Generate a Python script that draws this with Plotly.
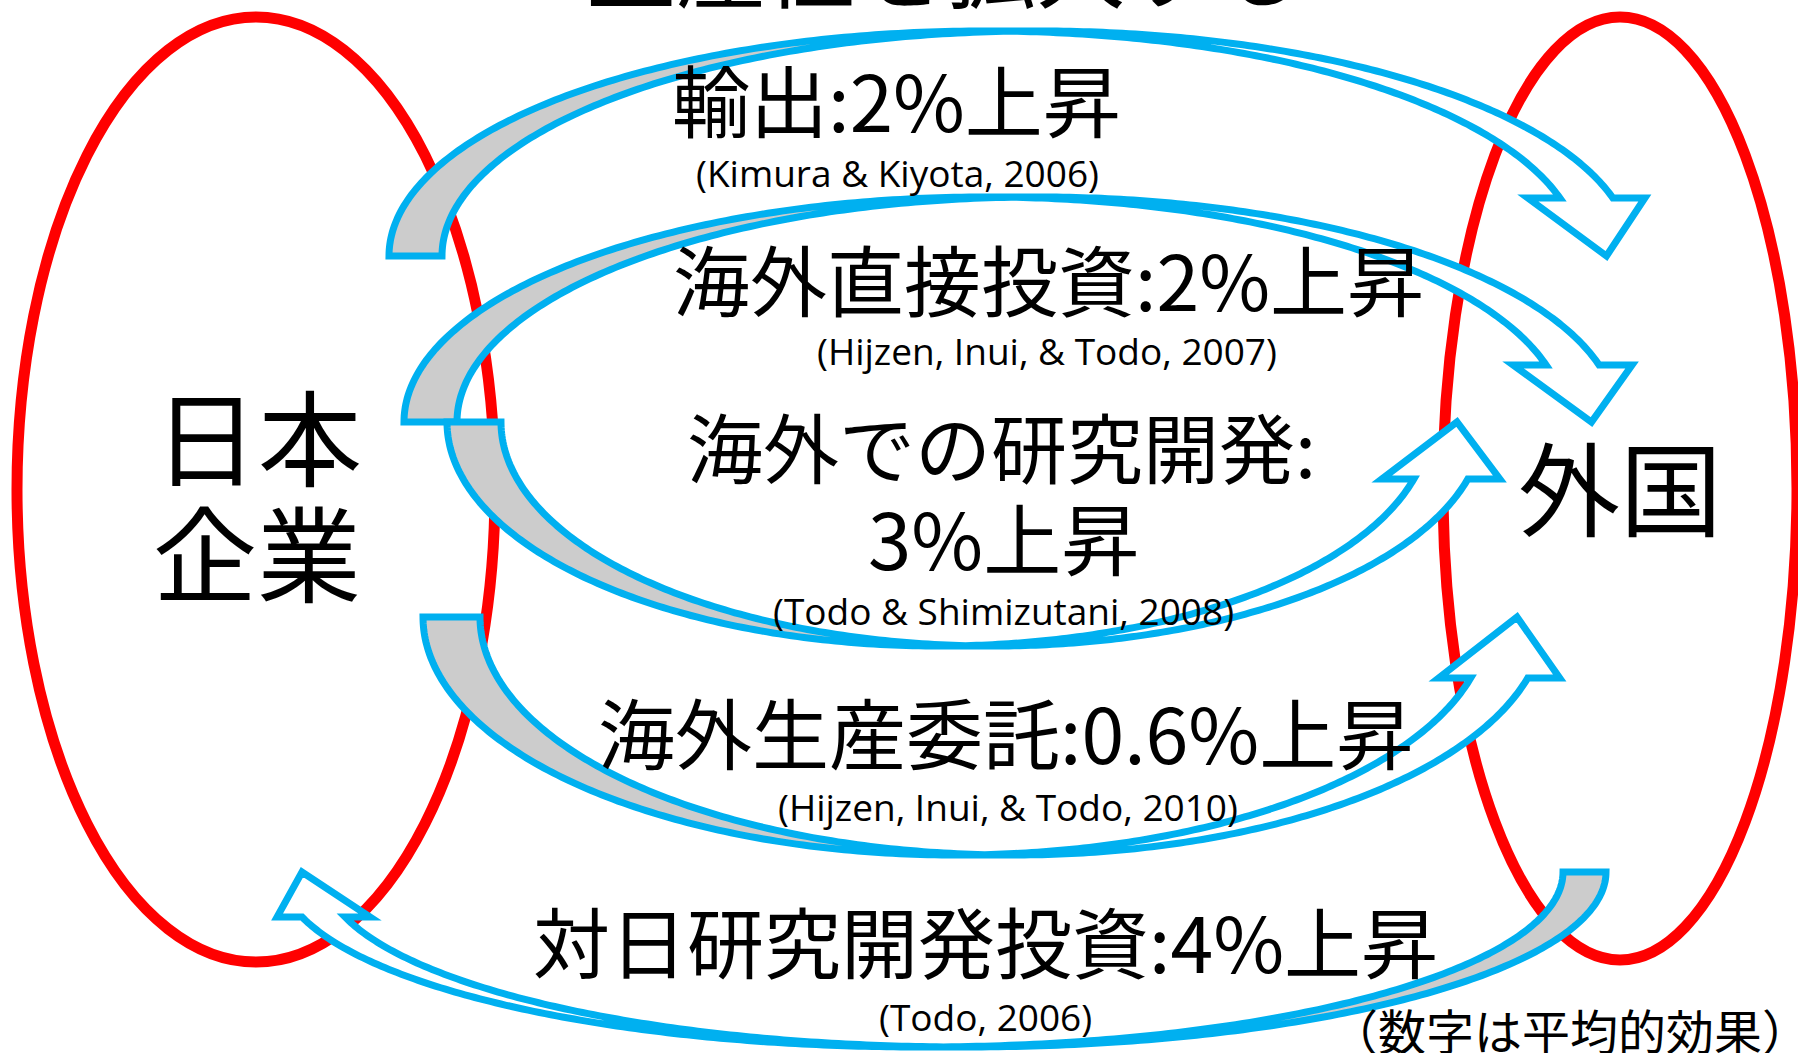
import numpy as np
import plotly.graph_objects as go

# ---------------- data (text content) ----------------
title_text = "生産性を拡大する"
home_label = ["日本", "企業"]
abroad_label = "外国"
channels = ["輸出", "海外直接投資", "海外での研究開発", "海外生産委託", "対日研究開発投資"]
effects_pct = [2, 2, 3, 0.6, 4]
citations = [
    "(Kimura & Kiyota, 2006)",
    "(Hijzen, Inui, & Todo, 2007)",
    "(Todo & Shimizutani, 2008)",
    "(Hijzen, Inui, & Todo, 2010)",
    "(Todo, 2006)",
]
note_text = "（数字は平均的効果）"

# ---------------- layout / style ----------------
W, H = 1798, 1053
BLUE = "#00B0F0"
RED = "#FF0000"
GRAY = "#CCCCCC"
JP = "Noto Sans CJK JP"
LAT = "Open Sans"

# geometry of the PowerPoint-style curved arrows (pixel units)
arrow_geom = [
    dict(x0=389, cy=256, rx=595.5, ry=225, th=53, hh=58, dh=32, sx=1, sy=1),
    dict(x0=404, cy=422, rx=580.5, ry=225, th=53, hh=57, dh=33, sx=1, sy=1),
    dict(x0=447, cy=422, rx=491.5, ry=224, th=54, hh=57, dh=32, sx=1, sy=-1),
    dict(x0=423, cy=617, rx=532.75, ry=238, th=57, hh=61, dh=32, sx=1, sy=-1),
    dict(x0=1606, cy=872, rx=641.25, ry=175, th=43, hh=45, dh=25, sx=-1, sy=-1),
]


def arrow_paths(x0, cy, rx, ry, th, hh, dh, sx, sy, n=120):
    def T(p):
        return (x0 + sx * p[0], cy - sy * p[1])

    def E(c, t):
        return (c + rx * np.cos(t), ry * np.sin(t))

    def arc(c, t0, t1):
        return [E(c, t) for t in np.linspace(t0, t1, n)]

    c1, c2 = rx, rx + th
    a = np.arccos(th / (2 * rx))
    ti1, ti2 = a, np.pi - a
    tha = np.arcsin(hh / ry)
    e1h, e2h = E(c1, tha), E(c2, tha)
    tip = (2 * rx + th / 2, 0)
    head = [(e2h[0] + dh, hh), tip, (e1h[0] - dh, hh)]
    gray = arc(c1, np.pi, ti1) + arc(c2, ti2, np.pi)
    white = arc(c2, np.pi / 2, tha) + head + arc(c1, tha, np.pi / 2)
    outline = (arc(c2, ti2, np.pi) + arc(c1, np.pi, np.pi / 2)
               + arc(c2, np.pi / 2, tha) + head + arc(c1, tha, np.pi / 2))

    def to_path(pts, close):
        s = "M " + " L ".join(f"{X:.2f},{Y:.2f}" for X, Y in (T(p) for p in pts))
        return s + (" Z" if close else "")

    return to_path(white, True), to_path(gray, True), to_path(outline, False)


fig = go.Figure()
fig.add_trace(go.Scatter(x=[], y=[], mode="markers", showlegend=False))

shapes = []
# red ellipses (Japan firms / abroad)
shapes.append(dict(type="circle", xref="x", yref="y", x0=17, x1=495, y0=17, y1=962,
                   line=dict(color=RED, width=11), fillcolor="rgba(0,0,0,0)"))
shapes.append(dict(type="circle", xref="x", yref="y", x0=1443, x1=1797, y0=17, y1=960,
                   line=dict(color=RED, width=11), fillcolor="rgba(0,0,0,0)"))

for g in arrow_geom:
    pw, pg, po = arrow_paths(**g)
    shapes.append(dict(type="path", xref="x", yref="y", path=pw, fillcolor="white",
                       line=dict(width=0)))
    shapes.append(dict(type="path", xref="x", yref="y", path=pg, fillcolor=GRAY,
                       line=dict(width=0)))
    shapes.append(dict(type="path", xref="x", yref="y", path=po, fillcolor="rgba(0,0,0,0)",
                       line=dict(color=BLUE, width=7)))

annotations = []


def add_text(text, x, y, size, family=JP, color="black"):
    annotations.append(dict(text=text, x=x / W, y=1 - y / H, xref="paper", yref="paper",
                            showarrow=False, xanchor="center", yanchor="middle",
                            font=dict(family=family, size=size, color=color)))


add_text(title_text, 946, -38, 90)
add_text(home_label[0], 258, 433, 104)
add_text(home_label[1], 257, 550, 104)
add_text(abroad_label, 1620, 484, 102)

labels = [f"{c}:{v:g}%上昇" for c, v in zip(channels, effects_pct)]
label_pos = [(896, 98), (1048, 278), None, (1005, 730), (986, 939)]
label_size = [78, 77, 76, 77, 77]
cite_pos = [(897, 172), (1047, 351), (1004, 610), (1008, 806), (985, 1016)]
for i, lab in enumerate(labels):
    if label_pos[i] is None:
        add_text(f"{channels[i]}:", 1001, 445, label_size[i])
        add_text(f"{effects_pct[i]:g}%上昇", 1003, 536, 78)
    else:
        add_text(lab, label_pos[i][0], label_pos[i][1], label_size[i])
for i, c in enumerate(citations):
    add_text(c, cite_pos[i][0], cite_pos[i][1], 37, family=LAT)

add_text(note_text, 1570, 1029, 48)

fig.update_layout(
    width=W, height=H,
    margin=dict(l=0, r=0, t=0, b=0, pad=0),
    paper_bgcolor="white", plot_bgcolor="white",
    xaxis=dict(range=[0, W], visible=False, fixedrange=True),
    yaxis=dict(range=[H, 0], visible=False, fixedrange=True),
    shapes=shapes, annotations=annotations, showlegend=False,
)

fig.write_html("out.html", config={"displayModeBar": False, "staticPlot": True},
               post_script="document.body.style.margin='0';document.body.style.overflow='hidden';")
